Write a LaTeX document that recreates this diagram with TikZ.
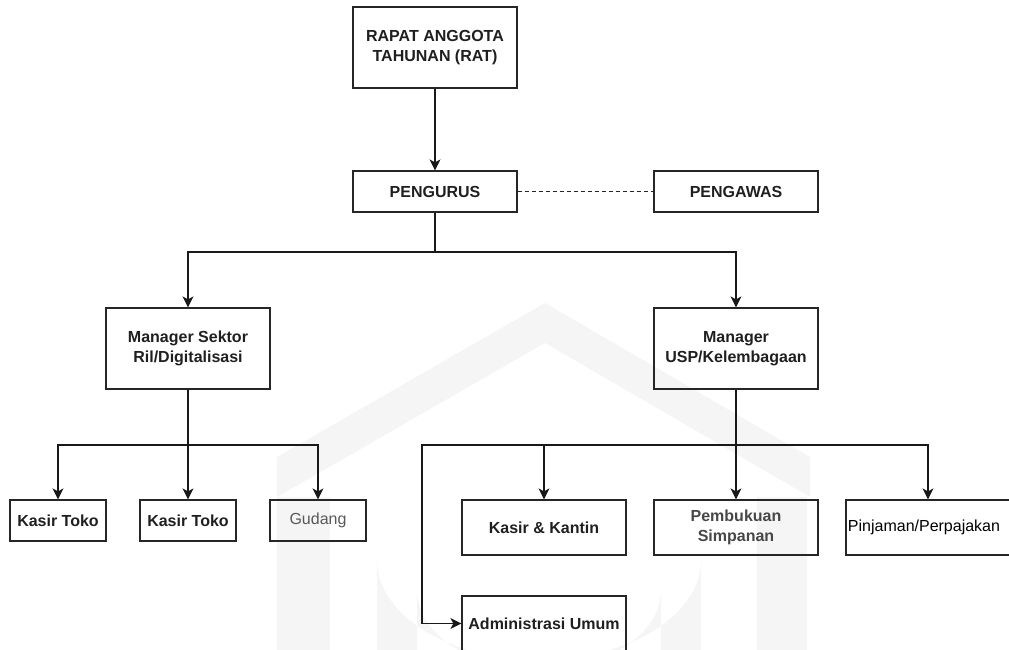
\documentclass[tikz,border=0pt]{standalone}
\usepackage{fontspec}
\setmainfont{Liberation Sans}
\usetikzlibrary{arrows.meta}
\begin{document}
\begin{tikzpicture}[x=1pt,y=-1pt,
  box/.style={draw=black!85, line width=1.2pt, inner sep=0pt, align=center,
    font=\fontsize{16}{20.5}\selectfont\bfseries, text=black!88},
  wide/.style={minimum width=164pt},
  narrow/.style={minimum width=96pt},
  plain/.style={font=\fontsize{16}{20.5}\selectfont},
  conn/.style={draw=black!90, line width=1.2pt},
  arr/.style={conn, -{Stealth[length=11pt,width=11pt,inset=3pt]}},
  dashconn/.style={draw=black!85, line width=1.2pt, dash pattern=on 4pt off 3pt},
  wm/.style={fill=black!4, draw=none}]
\useasboundingbox (0,0) rectangle (1009,650);
\clip (0,0) rectangle (1009,650);
% faint watermark
\fill[wm] (277,457) -- (545,303) -- (810,457) -- (810,497) -- (545,343) -- (277,497) -- cycle;
\fill[wm] (277,497) rectangle (330,650);
\fill[wm] (757,497) rectangle (807,650);
\fill[wm, even odd rule] (377,650) -- (377,560) arc[start angle=180, end angle=0, x radius=162, y radius=100] -- (701,650) -- cycle
  (417,650) -- (417,590) arc[start angle=180, end angle=0, x radius=122, y radius=80] -- (661,650) -- cycle;
% nodes
\node[box, wide, minimum height=81pt] (rat) at (435,47.5) {RAPAT ANGGOTA\\TAHUNAN (RAT)};
\node[box, wide, minimum height=41pt] (pengurus) at (435,191.5) {PENGURUS};
\node[box, wide, minimum height=41pt] (pengawas) at (736,191.5) {PENGAWAS};
\node[box, wide, minimum height=81pt] (msr) at (188,348.5) {Manager Sektor\\Ril/Digitalisasi};
\node[box, wide, minimum height=81pt] (musp) at (736,348.5) {Manager\\USP/Kelembagaan};
\node[box, narrow, minimum height=41pt] (kt1) at (58,520.5) {Kasir Toko};
\node[box, narrow, minimum height=41pt] (kt2) at (188,520.5) {Kasir Toko};
\node[box, narrow, minimum height=41pt, plain, text=black!65] (gud) at (318,520.5) {Gudang};
\node[box, wide, minimum height=55pt] (kk) at (544,527.5) {Kasir \& Kantin};
\node[box, wide, minimum height=55pt, text=black!72] (pem) at (736,527.5) {Pembukuan\\Simpanan};
\node[box, wide, minimum height=55pt, plain, text=black] (pin) at (928,527.5) {\hspace*{-8pt}Pinjaman/Perpajakan};
\node[box, wide, minimum height=55pt] (adm) at (544,623.5) {Administrasi Umum};
% junctions
\coordinate (j1) at (435,252);
\coordinate (j2) at (188,445);
\coordinate (j3) at (736,445);
\coordinate (c1) at (422,445);
% connectors
\draw[arr] (rat) -- (pengurus);
\draw[dashconn] (pengurus) -- (pengawas);
\draw[conn] (pengurus) -- (j1);
\draw[arr] (j1) -| (msr);
\draw[arr] (j1) -| (musp);
\draw[conn] (msr) -- (j2);
\draw[arr] (j2) -| (kt1);
\draw[arr] (j2) -- (kt2);
\draw[arr] (j2) -| (gud);
\draw[arr] (musp) -- (pem);
\draw[arr] (j3) -| (kk);
\draw[arr] (j3) -| (pin);
\draw[arr] (j3) -- (c1) |- (adm.west);
\end{tikzpicture}
\end{document}
